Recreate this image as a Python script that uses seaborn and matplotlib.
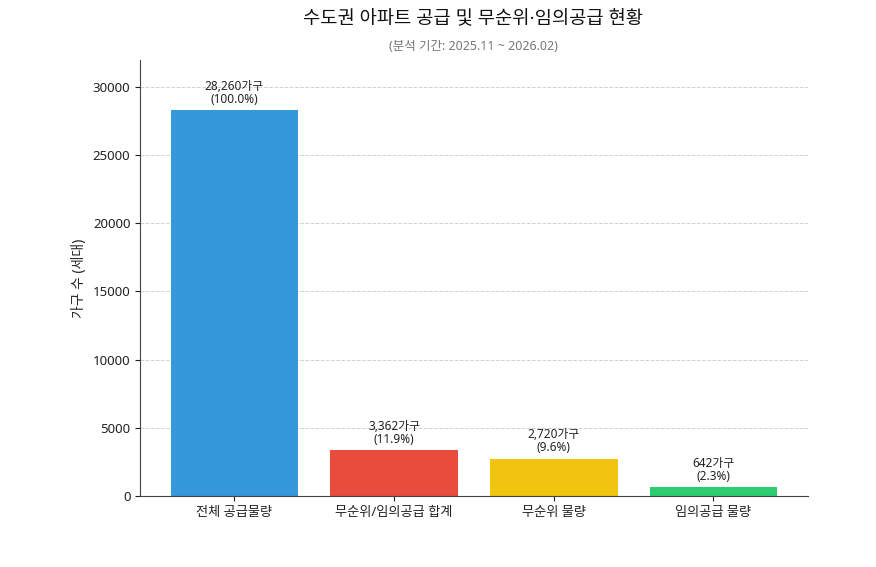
import matplotlib
matplotlib.use("Agg")
import matplotlib.pyplot as plt
import seaborn as sns
import pandas as pd

categories = ['전체 공급물량', '무순위/임의공급 합계', '무순위 물량', '임의공급 물량']
counts = [28260, 3362, 2720, 642]
colors = ['#3498db', '#e74c3c', '#f1c40f', '#2ecc71']

sns.set_style('ticks')
plt.rcParams['font.family'] = ['Noto Sans', 'Noto Sans CJK KR', 'DejaVu Sans']
plt.rcParams['axes.unicode_minus'] = False

df = pd.DataFrame({'구분': categories, '가구수': counts})

fig = plt.figure(figsize=(8.76, 5.67), dpi=100)
ax = fig.add_axes([0.16, 0.125, 0.762, 0.769])

sns.barplot(data=df, x='구분', y='가구수', hue='구분', palette=colors,
            legend=False, width=0.8, saturation=1, linewidth=0, ax=ax)

total = counts[0]
for i, v in enumerate(counts):
    ax.text(i, v + total * 0.012, f'{v:,}가구\n({v / total * 100:.1f}%)',
            ha='center', va='bottom', fontsize=8.5, color='#222222', linespacing=1.0)

ax.set_xlim(-0.59, 3.59)
ax.set_ylim(0, total * 1.13)
ax.set_xlabel('')
ax.set_ylabel('가구 수 (세대)', fontsize=10)
ax.tick_params(axis='both', labelsize=9.5, colors='#222222')
ax.yaxis.grid(True, linestyle='--', color='#cccccc', linewidth=0.7, alpha=0.9)
ax.set_axisbelow(True)
sns.despine(ax=ax)
for s in ['left', 'bottom']:
    ax.spines[s].set_color('#444444')

fig.text(0.54, 0.967, '수도권 아파트 공급 및 무순위·임의공급 현황',
         ha='center', va='center', fontsize=13.5, color='#111111')
fig.text(0.54, 0.918, '(분석 기간: 2025.11 ~ 2026.02)',
         ha='center', va='center', fontsize=9, color='#777777')

fig.savefig('out.png', dpi=100)
